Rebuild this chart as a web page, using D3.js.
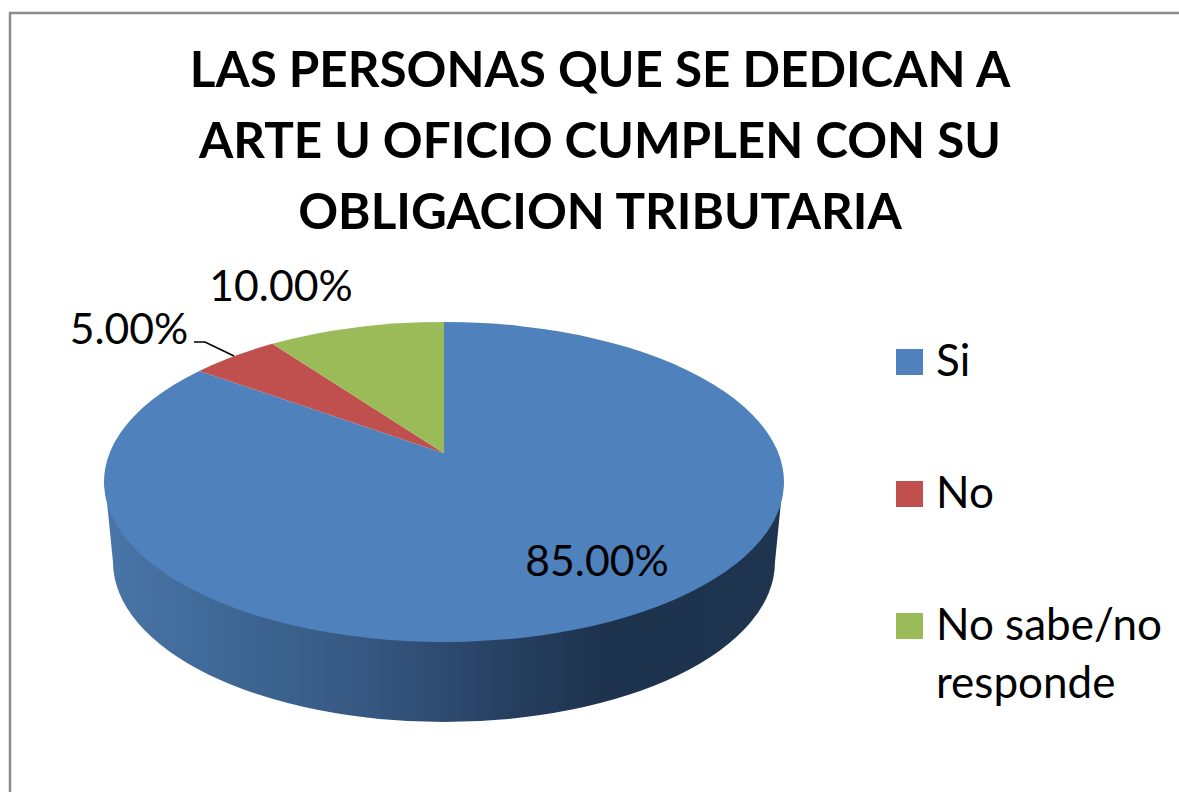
<!DOCTYPE html>
<html><head><meta charset="utf-8">
<script src="https://cdnjs.cloudflare.com/ajax/libs/d3/7.8.5/d3.min.js"></script>
<style>html,body{margin:0;padding:0;background:#fff}svg{display:block}text{font-family:Lato,"Open Sans",sans-serif;fill:#000}</style>
</head><body><svg id="c" width="1179" height="792"></svg>
<script>
const titleLines = ["LAS PERSONAS QUE SE DEDICAN A","ARTE U OFICIO CUMPLEN CON SU","OBLIGACION TRIBUTARIA"];
const categories = ["Si","No","No sabe/no responde"];
const values = [85,5,10];
const colors = ["#4f81bd","#c0504d","#9bbb59"];
const legendLines = [["Si"],["No"],["No sabe/no","responde"]];

const svg = d3.select("#c");
// frame
svg.append("path").attr("d","M10,792V13H1179").attr("fill","none").attr("stroke","#8c8c8c").attr("stroke-width",2.5);

// title
svg.append("g").selectAll("text").data(titleLines).join("text")
  .attr("x",600).attr("y",(d,i)=>87+i*71).attr("text-anchor","middle")
  .attr("font-size",49.4).attr("font-weight",700).text(d=>d);

// pie geometry
const cx=444, cy=482, rx=340, ry=160, Y0=0.18, bcy=562, brx=331, bry=160;
const color=d3.scaleOrdinal(categories,colors);
const arcs=d3.pie().sort(null).value(d=>d.v).startAngle(0).endAngle(2*Math.PI)(categories.map((c,i)=>({c,v:values[i]})));
// perspective projection of the pie's circle on the tilted ellipse
function proj(a,r=1){
  const u=r*Math.sin(a), v=r*Math.cos(a), den=1+Y0*v;
  return [cx+rx*u*Math.sqrt(1-Y0*Y0)/den, cy-ry*(v+Y0)/den];
}
const defs=svg.append("defs");
const grad=defs.append("linearGradient").attr("id","side").attr("gradientUnits","userSpaceOnUse")
  .attr("x1",104).attr("x2",784).attr("y1",0).attr("y2",0);
[[0,"#4a75a8"],[0.15,"#406a99"],[0.4,"#35567f"],[0.6,"#263f60"],[0.74,"#1d334d"],[1,"#1f354f"]]
  .forEach(([o,c])=>grad.append("stop").attr("offset",o).attr("stop-color",c));

// side wall (its top edge runs under the pie's face)
const sidePath=`M${cx-rx+1},${cy}L${cx+rx-1},${cy}L${cx+brx},${bcy}A${brx},${bry} 0 0 1 ${cx-brx},${bcy}Z`;
svg.append("path").attr("d",sidePath).attr("fill","url(#side)");

// top slices
const apex=proj(0,0);
svg.append("g").selectAll("path").data(arcs).join("path")
  .attr("fill",d=>color(d.data.c))
  .attr("d",d=>{
    const s=proj(d.startAngle), e=proj(d.endAngle);
    const large=(d.endAngle-d.startAngle)>Math.PI?1:0;
    return `M${apex[0]},${apex[1]}L${s[0]},${s[1]}A${rx},${ry} 0 ${large} 1 ${e[0]},${e[1]}Z`;
  });

// data labels
const labelPos=[[597,576],[129,344],[281,301]];
svg.append("g").selectAll("text").data(arcs).join("text")
  .attr("x",(d,i)=>labelPos[i][0]).attr("y",(d,i)=>labelPos[i][1])
  .attr("text-anchor","middle").attr("font-size",42.7)
  .text(d=>d3.format(".2f")(d.data.v)+"%");
svg.append("path").attr("d","M194,342H205L234,356").attr("fill","none").attr("stroke","#000").attr("stroke-width",1.7);

// legend
const ly=d3.scalePoint(categories,[362,626]);
const lg=svg.append("g").selectAll("g").data(categories).join("g")
  .attr("transform",d=>`translate(897,${ly(d)})`);
lg.append("rect").attr("x",-1).attr("y",-13).attr("width",27).attr("height",26).attr("fill",d=>color(d));
lg.each(function(d,i){
  d3.select(this).selectAll("text").data(legendLines[i]).join("text")
    .attr("x",39).attr("y",(t,j)=>14+j*58).attr("font-size",44).text(t=>t);
});
</script></body></html>
